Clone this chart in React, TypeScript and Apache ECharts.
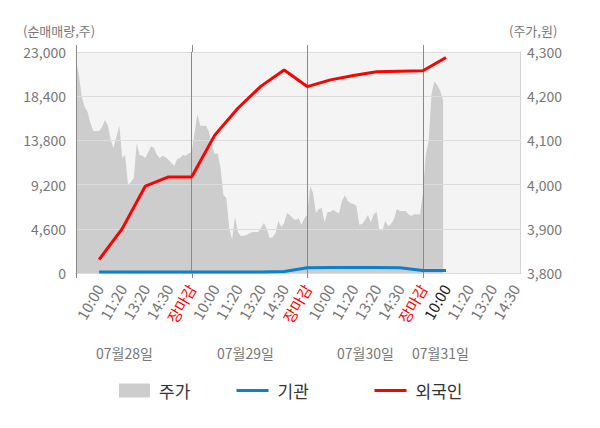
import React, { useEffect, useRef } from 'react';
import * as echarts from 'echarts';

const FONT = "'Noto Sans CJK KR', 'Noto Sans', sans-serif";

// x positions: index 0 = start of 07/28 session, labels at 1..19
const xLabels = [
  '', '10:00', '11:20', '13:20', '14:30', '장마감',
  '10:00', '11:20', '13:20', '14:30', '장마감',
  '10:00', '11:20', '13:20', '14:30', '장마감',
  '10:00', '11:20', '13:20', '14:30',
];
const redLabelIdx = [5, 10, 15];
const darkLabelIdx = [16];
const dayDividers = [5, 10, 15];
const dateLabels = ['07월28일', '07월29일', '07월30일', '07월31일'];

// net buying volume (shares), at label indices 1..16
const foreign = [1400, 4620, 9050, 10000, 10000, 14350, 17150, 19450, 21130, 19400, 20100, 20550, 20950, 21000, 21050, 22430];
const institution = [100, 100, 100, 100, 100, 100, 100, 100, 150, 550, 560, 560, 560, 540, 250, 250];

// stock price (won), sampled every 1/8 label step from index 0
const PRICE_STEP = 1 / 8;
const prices = [
  4282, 4248, 4198, 4176, 4164, 4139, 4121, 4121, 4121, 4130,
  4146, 4135, 4101, 4083, 4108, 4133, 4060, 4067, 3999, 4006,
  4015, 4094, 4067, 4065, 4060, 4074, 4087, 4083, 4067, 4060,
  4065, 4062, 4056, 4049, 4042, 4058, 4060, 4067, 4065, 4071,
  4074, 4117, 4160, 4133, 4133, 4133, 4119, 4090, 4069, 4071,
  4038, 3976, 3970, 3902, 3875, 3927, 3893, 3884, 3884, 3886,
  3890, 3893, 3893, 3893, 3902, 3913, 3900, 3879, 3881, 3890,
  3918, 3904, 3913, 3936, 3931, 3924, 3920, 3924, 3909, 3924,
  3931, 3997, 3981, 3936, 3945, 3947, 3915, 3938, 3938, 3943,
  3938, 3936, 3963, 3976, 3963, 3958, 3956, 3952, 3909, 3911,
  3920, 3931, 3915, 3933, 3938, 3897, 3897, 3918, 3906, 3911,
  3922, 3945, 3940, 3940, 3940, 3933, 3929, 3933, 3933, 3933,
  3981, 4067, 4099, 4205, 4234, 4225, 4212, 4191,
];

const fmt = (v: number) => Math.round(v).toLocaleString('en-US');

export default function App() {
  const ref = useRef<HTMLDivElement>(null);
  useEffect(() => {
    document.body.style.margin = '0';
    if (!ref.current) return;
    const chart = echarts.init(ref.current, null, { renderer: 'svg' });
    const legendText = { fontSize: 17, color: '#333', fontFamily: FONT, padding: [0, 0, 0, 4] };
    const baseGraphic: any[] = [
      { id: 'nameL', type: 'text', left: 23, top: 24, style: { text: '(순매매량,주)', fontSize: 13, fill: '#777', fontFamily: FONT } },
      { id: 'nameR', type: 'text', left: 509, top: 24, style: { text: '(주가,원)', fontSize: 13, fill: '#777', fontFamily: FONT } },
      ...dateLabels.map((t, i) => ({
        id: 'date' + i, type: 'text', left: [96, 217, 337, 412][i], top: 346,
        style: { text: t, fontSize: 14, fill: '#777', fontFamily: FONT },
      })),
    ];
    const option: any = {
      animation: false,
      textStyle: { fontFamily: FONT },
      grid: {
        left: 76, right: 80, top: 52, bottom: 155,
        show: true, backgroundColor: '#f4f4f4', borderWidth: 0,
      },
      xAxis: {
        type: 'value', min: 0, max: 19.2, interval: 1, offset: 1.5,
        axisLine: { show: true, lineStyle: { color: '#9a9a9a' } },
        axisTick: { show: false },
        splitLine: { show: false },
        axisLabel: {
          rotate: 60, margin: 11, fontSize: 15, color: '#777', fontFamily: FONT,
          showMinLabel: true, showMaxLabel: true,
          formatter: (v: number) => {
            const k = Math.round(v);
            if (Math.abs(v - k) > 1e-6 || !xLabels[k]) return '';
            if (redLabelIdx.includes(k)) return '{r|' + xLabels[k] + '}';
            if (darkLabelIdx.includes(k)) return '{d|' + xLabels[k] + '}';
            return xLabels[k];
          },
          rich: {
            r: { color: '#ff0000', fontSize: 15, fontFamily: FONT },
            d: { color: '#222', fontSize: 15, fontFamily: FONT },
          },
        },
      },
      yAxis: [
        {
          type: 'value', min: 0, max: 23000, interval: 4600, position: 'left', z: 3,
          axisLine: { show: true, lineStyle: { color: '#888' } },
          axisTick: { show: false },
          axisLabel: { fontSize: 14, color: '#777', margin: 10, fontFamily: FONT, formatter: fmt },
          splitLine: { show: true, lineStyle: { color: '#dcdcdc' } },
        },
        {
          type: 'value', min: 3800, max: 4300, interval: 100, position: 'right',
          axisLine: { show: true, lineStyle: { color: '#d4d4d4' } },
          axisTick: { show: false },
          axisLabel: { fontSize: 14, color: '#777', margin: 7, fontFamily: FONT, formatter: fmt },
          splitLine: { show: false },
        },
      ],
      legend: [
        { data: ['주가'], left: 114, top: 377, itemWidth: 31, itemHeight: 14, icon: 'rect', textStyle: legendText },
        { data: ['기관'], left: 230, top: 377, itemWidth: 32, itemHeight: 14,
          itemStyle: { opacity: 0 }, lineStyle: { width: 3 }, textStyle: legendText },
        { data: ['외국인'], left: 368, top: 377, itemWidth: 32, itemHeight: 14,
          itemStyle: { opacity: 0 }, lineStyle: { width: 3 }, textStyle: legendText },
      ],
      graphic: baseGraphic,
      series: [
        {
          name: '주가', type: 'line', yAxisIndex: 1, z: 2,
          data: prices.map((p, i) => [i * PRICE_STEP, p]),
          symbol: 'none', lineStyle: { width: 0 }, itemStyle: { color: '#cdcdcd' },
          areaStyle: { color: '#cdcdcd', opacity: 1, origin: 'start' },
          markLine: {
            silent: true, symbol: 'none', label: { show: false },
            lineStyle: { color: '#8a8a8a', width: 1, type: 'solid' },
            data: dayDividers.map((d) => ({ xAxis: d })),
          },
        },
        {
          name: '기관', type: 'line', yAxisIndex: 0, z: 6,
          data: institution.map((v, i) => [i + 1, v]),
          symbol: 'none', lineStyle: { width: 3, color: '#0b80cc' }, itemStyle: { color: '#0b80cc' },
        },
        {
          name: '외국인', type: 'line', yAxisIndex: 0, z: 6,
          data: foreign.map((v, i) => [i + 1, v]),
          symbol: 'none', lineStyle: { width: 3, color: '#ff0000' }, itemStyle: { color: '#ff0000' },
        },
      ],
    };
    chart.setOption(option);

    // short extensions of the day dividers / left axis beyond the plot, placed via the axis scales
    const yTop = chart.convertToPixel({ yAxisIndex: 0 }, 23000) as number;
    const yBot = chart.convertToPixel({ yAxisIndex: 0 }, 0) as number;
    const ext: any[] = [];
    [0, ...dayDividers].forEach((d, i) => {
      const x = Math.round(chart.convertToPixel({ xAxisIndex: 0 }, d) as number) + 0.5;
      const color = d === 0 ? '#888' : '#8a8a8a';
      ext.push({ id: 'extT' + i, type: 'line', z: 10, silent: true,
        shape: { x1: x, y1: yTop - 7, x2: x, y2: yTop }, style: { stroke: color, lineWidth: 1 } });
      ext.push({ id: 'extB' + i, type: 'line', z: 10, silent: true,
        shape: { x1: x, y1: yBot, x2: x, y2: yBot + 5 }, style: { stroke: color, lineWidth: 1 } });
    });
    chart.setOption({ graphic: [...baseGraphic, ...ext] });
    return () => chart.dispose();
  }, []);
  return <div ref={ref} style={{ width: 600, height: 428 }} />;
}
